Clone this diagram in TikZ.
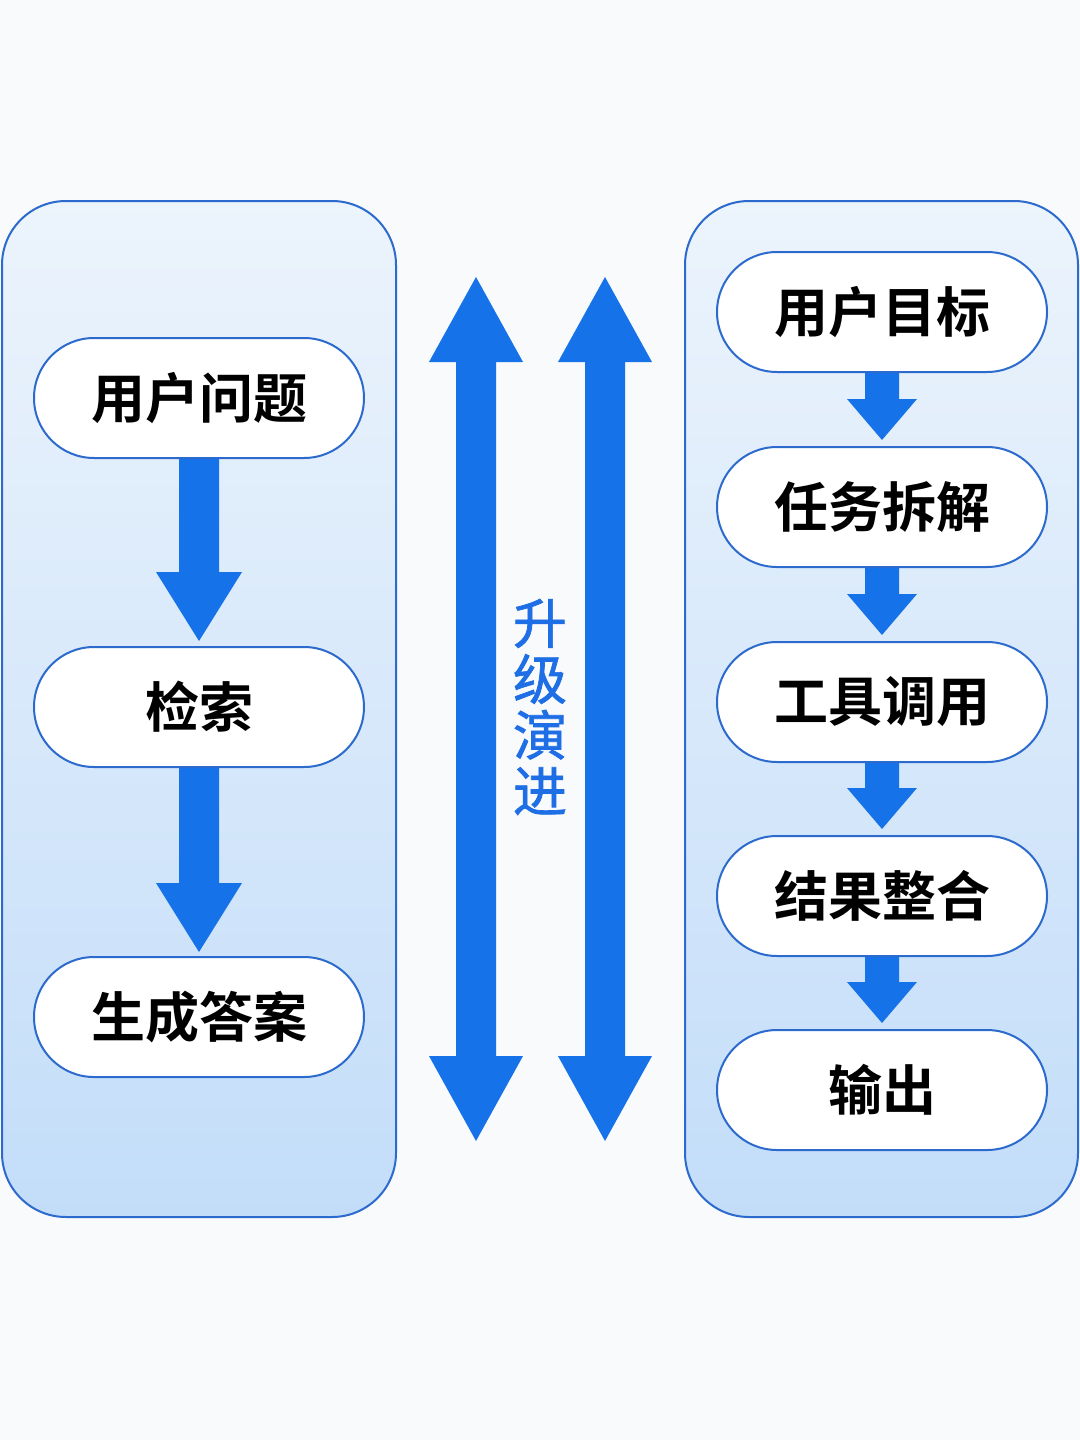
\documentclass[tikz,border=0pt]{standalone}
\usepackage{fontspec}
\newfontfamily\cjk{Noto Sans CJK SC}[BoldFont={Noto Sans CJK SC Bold}]
\newfontfamily\cjkmid{Noto Sans CJK SC}[FakeBold=1.3]
\usetikzlibrary{calc,shapes.misc}
\definecolor{bgc}{RGB}{248,250,252}
\definecolor{panelline}{RGB}{44,106,205}
\definecolor{paneltop}{RGB}{236,244,252}
\definecolor{panelbot}{RGB}{195,221,249}
\definecolor{arrowc}{RGB}{22,114,232}
\definecolor{midtext}{RGB}{30,110,230}
\tikzset{
  px/.style={x=0.5pt,y=-0.5pt},
  panel/.style={draw=panelline, line width=1pt, rounded corners=32pt, top color=paneltop, bottom color=panelbot},
  pill/.style={draw=panelline, line width=1pt, fill=white, rounded rectangle, minimum width=165pt, minimum height=60pt, font=\cjk\bfseries\fontsize{27}{30}\selectfont, text=black, inner sep=0pt},
  rpill/.style={pill},
  blockarrow/.style={fill=arrowc, draw=none},
}
% block arrow between two nodes: #1 from node, #2 to node, #3 half shaft, #4 half head, #5 head length, #6 gap
\newcommand{\blkarrow}[6]{%
  \fill[blockarrow] ($(#1.south)+(-#3,0)$) -- ($(#2.north)+(-#3,-#5-#6)$) -- ($(#2.north)+(-#4,-#5-#6)$) -- ($(#2.north)+(0,-#6)$) -- ($(#2.north)+(#4,-#5-#6)$) -- ($(#2.north)+(#3,-#5-#6)$) -- ($(#1.south)+(#3,0)$) -- cycle;}
\begin{document}
\begin{tikzpicture}[px]
\useasboundingbox (0,0) rectangle (1080,1440);
\fill[bgc] (0,0) rectangle (1080,1440);
% panels
\path[panel] (2,201) rectangle (396,1217);
\path[panel] (685,201) rectangle (1078,1217);
% left nodes
\node[pill] (q) at (199,398) {用户问题};
\node[pill] (r) at (199,707) {检索};
\node[pill] (g) at (199,1017) {生成答案};
% right nodes
\node[rpill] (t1) at (882,312) {用户目标};
\node[rpill] (t2) at (882,507) {任务拆解};
\node[rpill] (t3) at (882,702) {工具调用};
\node[rpill] (t4) at (882,896) {结果整合};
\node[rpill] (t5) at (882,1090) {输出};
% left block arrows
\blkarrow{q}{r}{20}{43}{69}{5}
\blkarrow{r}{g}{20}{43}{69}{4}
% right block arrows
\blkarrow{t1}{t2}{17}{35}{41}{6}
\blkarrow{t2}{t3}{17}{35}{41}{6}
\blkarrow{t3}{t4}{17}{35}{41}{6}
\blkarrow{t4}{t5}{17}{35}{41}{6}
% middle double arrows
\foreach \cx/\nm in {476/da, 605/db}{
  \coordinate (\nm top) at (\cx,277);
  \coordinate (\nm bot) at (\cx,1141);
  \fill[blockarrow] (\nm top) -- ($(\nm top)+(47,85)$) -- ($(\nm top)+(20,85)$) -- ($(\nm bot)+(20,-85)$) -- ($(\nm bot)+(47,-85)$) -- (\nm bot) -- ($(\nm bot)+(-47,-85)$) -- ($(\nm bot)+(-20,-85)$) -- ($(\nm top)+(-20,85)$) -- ($(\nm top)+(-47,85)$) -- cycle;
}
\node[font=\cjkmid\fontsize{27}{28}\selectfont, text=midtext, align=center, inner sep=0pt] (mid) at (540,707) {升\\级\\演\\进};
\end{tikzpicture}
\end{document}
